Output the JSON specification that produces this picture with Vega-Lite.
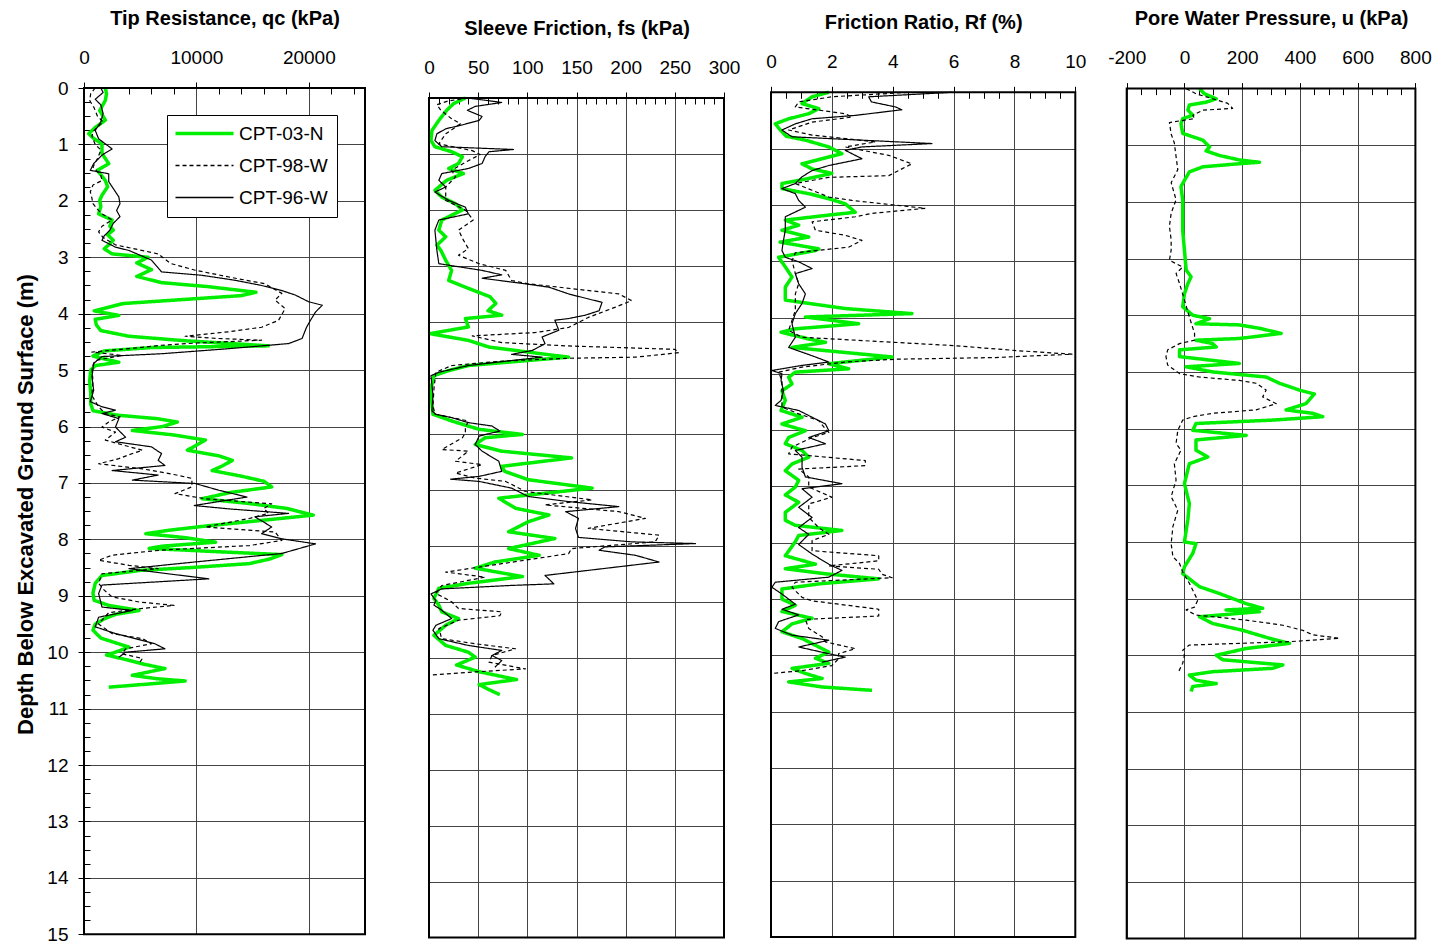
{
  "$schema": "https://vega.github.io/schema/vega-lite/v6.json",
  "background": "white",
  "padding": {"left": 14, "top": 8, "right": 5, "bottom": 5},
  "config": {
    "font": "Liberation Sans",
    "view": {"stroke": null},
    "axis": {"labelFont": "Liberation Sans", "titleFont": "Liberation Sans", "labelColor": "black", "titleColor": "black", "tickColor": "black", "tickWidth": 1, "gridColor": "#444444", "gridWidth": 1, "gridOpacity": 1, "domain": false, "labelFlush": false, "labelOverlap": false, "labelBound": false, "labelFontSize": 19}
  },
  "datasets": {
    "qc": [
      {"s":"CPT-03-N","d":0,"v":1900},{"s":"CPT-03-N","d":0.1,"v":2000},{"s":"CPT-03-N","d":0.22,"v":1900},{"s":"CPT-03-N","d":0.4,"v":1400},{"s":"CPT-03-N","d":0.57,"v":1900},{"s":"CPT-03-N","d":0.7,"v":1000},{"s":"CPT-03-N","d":0.81,"v":420},{"s":"CPT-03-N","d":0.9,"v":900},{"s":"CPT-03-N","d":0.99,"v":1600},{"s":"CPT-03-N","d":1.16,"v":1600},{"s":"CPT-03-N","d":1.34,"v":2200},{"s":"CPT-03-N","d":1.46,"v":1200},{"s":"CPT-03-N","d":1.64,"v":1900},{"s":"CPT-03-N","d":1.75,"v":2100},{"s":"CPT-03-N","d":1.9,"v":1600},{"s":"CPT-03-N","d":1.99,"v":1400},{"s":"CPT-03-N","d":2.1,"v":1500},{"s":"CPT-03-N","d":2.23,"v":1300},{"s":"CPT-03-N","d":2.34,"v":2500},{"s":"CPT-03-N","d":2.45,"v":2300},{"s":"CPT-03-N","d":2.52,"v":2600},{"s":"CPT-03-N","d":2.6,"v":2100},{"s":"CPT-03-N","d":2.7,"v":2600},{"s":"CPT-03-N","d":2.78,"v":2200},{"s":"CPT-03-N","d":2.85,"v":1800},{"s":"CPT-03-N","d":2.94,"v":2500},{"s":"CPT-03-N","d":3.0,"v":5700},{"s":"CPT-03-N","d":3.1,"v":4700},{"s":"CPT-03-N","d":3.22,"v":6000},{"s":"CPT-03-N","d":3.34,"v":4700},{"s":"CPT-03-N","d":3.45,"v":6900},{"s":"CPT-03-N","d":3.52,"v":11000},{"s":"CPT-03-N","d":3.62,"v":15300},{"s":"CPT-03-N","d":3.68,"v":14000},{"s":"CPT-03-N","d":3.76,"v":8000},{"s":"CPT-03-N","d":3.82,"v":3500},{"s":"CPT-03-N","d":3.95,"v":900},{"s":"CPT-03-N","d":4.03,"v":3100},{"s":"CPT-03-N","d":4.1,"v":1000},{"s":"CPT-03-N","d":4.2,"v":1100},{"s":"CPT-03-N","d":4.3,"v":1500},{"s":"CPT-03-N","d":4.4,"v":4000},{"s":"CPT-03-N","d":4.48,"v":9000},{"s":"CPT-03-N","d":4.54,"v":14000},{"s":"CPT-03-N","d":4.57,"v":16400},{"s":"CPT-03-N","d":4.6,"v":6000},{"s":"CPT-03-N","d":4.66,"v":1800},{"s":"CPT-03-N","d":4.75,"v":800},{"s":"CPT-03-N","d":4.82,"v":2200},{"s":"CPT-03-N","d":4.86,"v":3100},{"s":"CPT-03-N","d":4.92,"v":1000},{"s":"CPT-03-N","d":5.0,"v":600},{"s":"CPT-03-N","d":5.2,"v":500},{"s":"CPT-03-N","d":5.4,"v":600},{"s":"CPT-03-N","d":5.6,"v":600},{"s":"CPT-03-N","d":5.72,"v":800},{"s":"CPT-03-N","d":5.8,"v":3000},{"s":"CPT-03-N","d":5.86,"v":6500},{"s":"CPT-03-N","d":5.92,"v":8300},{"s":"CPT-03-N","d":6.0,"v":7000},{"s":"CPT-03-N","d":6.07,"v":4300},{"s":"CPT-03-N","d":6.15,"v":8000},{"s":"CPT-03-N","d":6.24,"v":10800},{"s":"CPT-03-N","d":6.33,"v":10000},{"s":"CPT-03-N","d":6.42,"v":9200},{"s":"CPT-03-N","d":6.52,"v":12000},{"s":"CPT-03-N","d":6.6,"v":13200},{"s":"CPT-03-N","d":6.7,"v":12300},{"s":"CPT-03-N","d":6.78,"v":11400},{"s":"CPT-03-N","d":6.88,"v":14000},{"s":"CPT-03-N","d":6.97,"v":16000},{"s":"CPT-03-N","d":7.07,"v":16700},{"s":"CPT-03-N","d":7.17,"v":13000},{"s":"CPT-03-N","d":7.28,"v":10500},{"s":"CPT-03-N","d":7.36,"v":14500},{"s":"CPT-03-N","d":7.45,"v":18000},{"s":"CPT-03-N","d":7.57,"v":20400},{"s":"CPT-03-N","d":7.66,"v":16000},{"s":"CPT-03-N","d":7.76,"v":11000},{"s":"CPT-03-N","d":7.84,"v":7500},{"s":"CPT-03-N","d":7.9,"v":5500},{"s":"CPT-03-N","d":7.97,"v":9000},{"s":"CPT-03-N","d":8.05,"v":11700},{"s":"CPT-03-N","d":8.12,"v":7000},{"s":"CPT-03-N","d":8.16,"v":5800},{"s":"CPT-03-N","d":8.22,"v":12000},{"s":"CPT-03-N","d":8.27,"v":17600},{"s":"CPT-03-N","d":8.35,"v":16500},{"s":"CPT-03-N","d":8.43,"v":14700},{"s":"CPT-03-N","d":8.5,"v":9500},{"s":"CPT-03-N","d":8.55,"v":5000},{"s":"CPT-03-N","d":8.64,"v":1600},{"s":"CPT-03-N","d":8.78,"v":1000},{"s":"CPT-03-N","d":8.95,"v":800},{"s":"CPT-03-N","d":9.08,"v":900},{"s":"CPT-03-N","d":9.17,"v":2200},{"s":"CPT-03-N","d":9.26,"v":4900},{"s":"CPT-03-N","d":9.33,"v":2800},{"s":"CPT-03-N","d":9.4,"v":1900},{"s":"CPT-03-N","d":9.5,"v":1000},{"s":"CPT-03-N","d":9.61,"v":800},{"s":"CPT-03-N","d":9.75,"v":1500},{"s":"CPT-03-N","d":9.91,"v":4000},{"s":"CPT-03-N","d":10.0,"v":2800},{"s":"CPT-03-N","d":10.05,"v":2000},{"s":"CPT-03-N","d":10.12,"v":3500},{"s":"CPT-03-N","d":10.22,"v":5500},{"s":"CPT-03-N","d":10.29,"v":7200},{"s":"CPT-03-N","d":10.36,"v":5500},{"s":"CPT-03-N","d":10.41,"v":4300},{"s":"CPT-03-N","d":10.47,"v":6500},{"s":"CPT-03-N","d":10.51,"v":9000},{"s":"CPT-03-N","d":10.56,"v":6000},{"s":"CPT-03-N","d":10.62,"v":2200},
      {"s":"CPT-98-W","d":0,"v":1000},{"s":"CPT-98-W","d":0.1,"v":600},{"s":"CPT-98-W","d":0.22,"v":500},{"s":"CPT-98-W","d":0.35,"v":900},{"s":"CPT-98-W","d":0.5,"v":1200},{"s":"CPT-98-W","d":0.6,"v":1700},{"s":"CPT-98-W","d":0.75,"v":900},{"s":"CPT-98-W","d":0.85,"v":700},{"s":"CPT-98-W","d":1.0,"v":1000},{"s":"CPT-98-W","d":1.1,"v":1500},{"s":"CPT-98-W","d":1.25,"v":1200},{"s":"CPT-98-W","d":1.4,"v":800},{"s":"CPT-98-W","d":1.55,"v":1500},{"s":"CPT-98-W","d":1.64,"v":1600},{"s":"CPT-98-W","d":1.72,"v":800},{"s":"CPT-98-W","d":1.84,"v":560},{"s":"CPT-98-W","d":1.95,"v":700},{"s":"CPT-98-W","d":2.05,"v":800},{"s":"CPT-98-W","d":2.15,"v":1200},{"s":"CPT-98-W","d":2.23,"v":1600},{"s":"CPT-98-W","d":2.34,"v":2500},{"s":"CPT-98-W","d":2.45,"v":1600},{"s":"CPT-98-W","d":2.55,"v":1300},{"s":"CPT-98-W","d":2.65,"v":1700},{"s":"CPT-98-W","d":2.78,"v":2800},{"s":"CPT-98-W","d":2.94,"v":6600},{"s":"CPT-98-W","d":3.11,"v":7700},{"s":"CPT-98-W","d":3.23,"v":9900},{"s":"CPT-98-W","d":3.35,"v":12900},{"s":"CPT-98-W","d":3.47,"v":16100},{"s":"CPT-98-W","d":3.64,"v":17600},{"s":"CPT-98-W","d":3.76,"v":17000},{"s":"CPT-98-W","d":3.91,"v":17900},{"s":"CPT-98-W","d":4.12,"v":17300},{"s":"CPT-98-W","d":4.24,"v":15800},{"s":"CPT-98-W","d":4.32,"v":12900},{"s":"CPT-98-W","d":4.4,"v":9000},{"s":"CPT-98-W","d":4.44,"v":12000},{"s":"CPT-98-W","d":4.47,"v":15800},{"s":"CPT-98-W","d":4.52,"v":10000},{"s":"CPT-98-W","d":4.56,"v":6900},{"s":"CPT-98-W","d":4.62,"v":4000},{"s":"CPT-98-W","d":4.68,"v":700},{"s":"CPT-98-W","d":4.74,"v":3400},{"s":"CPT-98-W","d":4.83,"v":1000},{"s":"CPT-98-W","d":4.95,"v":700},{"s":"CPT-98-W","d":5.2,"v":800},{"s":"CPT-98-W","d":5.45,"v":700},{"s":"CPT-98-W","d":5.65,"v":1300},{"s":"CPT-98-W","d":5.77,"v":1900},{"s":"CPT-98-W","d":5.83,"v":3200},{"s":"CPT-98-W","d":5.92,"v":2200},{"s":"CPT-98-W","d":6.01,"v":1600},{"s":"CPT-98-W","d":6.1,"v":2800},{"s":"CPT-98-W","d":6.24,"v":1900},{"s":"CPT-98-W","d":6.33,"v":3500},{"s":"CPT-98-W","d":6.42,"v":5200},{"s":"CPT-98-W","d":6.5,"v":4000},{"s":"CPT-98-W","d":6.57,"v":3100},{"s":"CPT-98-W","d":6.66,"v":1300},{"s":"CPT-98-W","d":6.75,"v":5200},{"s":"CPT-98-W","d":6.85,"v":8000},{"s":"CPT-98-W","d":6.92,"v":9600},{"s":"CPT-98-W","d":7.07,"v":9600},{"s":"CPT-98-W","d":7.19,"v":8100},{"s":"CPT-98-W","d":7.28,"v":10800},{"s":"CPT-98-W","d":7.37,"v":16700},{"s":"CPT-98-W","d":7.45,"v":16000},{"s":"CPT-98-W","d":7.54,"v":16400},{"s":"CPT-98-W","d":7.63,"v":14700},{"s":"CPT-98-W","d":7.78,"v":10800},{"s":"CPT-98-W","d":7.87,"v":17000},{"s":"CPT-98-W","d":8.02,"v":17600},{"s":"CPT-98-W","d":8.11,"v":14700},{"s":"CPT-98-W","d":8.19,"v":6900},{"s":"CPT-98-W","d":8.28,"v":2500},{"s":"CPT-98-W","d":8.37,"v":1300},{"s":"CPT-98-W","d":8.46,"v":4000},{"s":"CPT-98-W","d":8.52,"v":6600},{"s":"CPT-98-W","d":8.61,"v":1600},{"s":"CPT-98-W","d":8.78,"v":1300},{"s":"CPT-98-W","d":8.9,"v":1800},{"s":"CPT-98-W","d":9.02,"v":2500},{"s":"CPT-98-W","d":9.11,"v":4900},{"s":"CPT-98-W","d":9.17,"v":8000},{"s":"CPT-98-W","d":9.23,"v":4900},{"s":"CPT-98-W","d":9.3,"v":2200},{"s":"CPT-98-W","d":9.5,"v":1300},{"s":"CPT-98-W","d":9.67,"v":2500},{"s":"CPT-98-W","d":9.76,"v":5200},{"s":"CPT-98-W","d":9.85,"v":6000},{"s":"CPT-98-W","d":9.94,"v":3700},{"s":"CPT-98-W","d":10.03,"v":3400},{"s":"CPT-98-W","d":10.11,"v":5200},{"s":"CPT-98-W","d":10.2,"v":4900},
      {"s":"CPT-96-W","d":0,"v":1500},{"s":"CPT-96-W","d":0.08,"v":1700},{"s":"CPT-96-W","d":0.2,"v":1000},{"s":"CPT-96-W","d":0.3,"v":1500},{"s":"CPT-96-W","d":0.45,"v":1700},{"s":"CPT-96-W","d":0.6,"v":1500},{"s":"CPT-96-W","d":0.75,"v":1000},{"s":"CPT-96-W","d":0.9,"v":1300},{"s":"CPT-96-W","d":0.99,"v":1900},{"s":"CPT-96-W","d":1.08,"v":2500},{"s":"CPT-96-W","d":1.19,"v":1600},{"s":"CPT-96-W","d":1.34,"v":860},{"s":"CPT-96-W","d":1.46,"v":560},{"s":"CPT-96-W","d":1.52,"v":2200},{"s":"CPT-96-W","d":1.66,"v":2200},{"s":"CPT-96-W","d":1.84,"v":2800},{"s":"CPT-96-W","d":1.93,"v":3100},{"s":"CPT-96-W","d":2.05,"v":3200},{"s":"CPT-96-W","d":2.17,"v":2900},{"s":"CPT-96-W","d":2.28,"v":3200},{"s":"CPT-96-W","d":2.4,"v":2600},{"s":"CPT-96-W","d":2.52,"v":2300},{"s":"CPT-96-W","d":2.62,"v":1800},{"s":"CPT-96-W","d":2.7,"v":1600},{"s":"CPT-96-W","d":2.82,"v":2800},{"s":"CPT-96-W","d":2.88,"v":4000},{"s":"CPT-96-W","d":3.05,"v":6000},{"s":"CPT-96-W","d":3.26,"v":6900},{"s":"CPT-96-W","d":3.32,"v":10500},{"s":"CPT-96-W","d":3.41,"v":13500},{"s":"CPT-96-W","d":3.5,"v":15800},{"s":"CPT-96-W","d":3.59,"v":17600},{"s":"CPT-96-W","d":3.67,"v":18800},{"s":"CPT-96-W","d":3.79,"v":20000},{"s":"CPT-96-W","d":3.85,"v":21200},{"s":"CPT-96-W","d":3.97,"v":20600},{"s":"CPT-96-W","d":4.1,"v":20200},{"s":"CPT-96-W","d":4.24,"v":19800},{"s":"CPT-96-W","d":4.44,"v":19400},{"s":"CPT-96-W","d":4.53,"v":18200},{"s":"CPT-96-W","d":4.62,"v":12900},{"s":"CPT-96-W","d":4.71,"v":6900},{"s":"CPT-96-W","d":4.76,"v":1600},{"s":"CPT-96-W","d":4.88,"v":860},{"s":"CPT-96-W","d":5.12,"v":710},{"s":"CPT-96-W","d":5.36,"v":860},{"s":"CPT-96-W","d":5.56,"v":560},{"s":"CPT-96-W","d":5.65,"v":1600},{"s":"CPT-96-W","d":5.71,"v":2800},{"s":"CPT-96-W","d":5.77,"v":1600},{"s":"CPT-96-W","d":5.86,"v":3100},{"s":"CPT-96-W","d":6.01,"v":2800},{"s":"CPT-96-W","d":6.19,"v":3700},{"s":"CPT-96-W","d":6.27,"v":2800},{"s":"CPT-96-W","d":6.36,"v":6000},{"s":"CPT-96-W","d":6.48,"v":6900},{"s":"CPT-96-W","d":6.6,"v":6600},{"s":"CPT-96-W","d":6.69,"v":7200},{"s":"CPT-96-W","d":6.78,"v":2500},{"s":"CPT-96-W","d":6.86,"v":6600},{"s":"CPT-96-W","d":6.95,"v":4300},{"s":"CPT-96-W","d":7.01,"v":9900},{"s":"CPT-96-W","d":7.13,"v":12000},{"s":"CPT-96-W","d":7.25,"v":14500},{"s":"CPT-96-W","d":7.4,"v":9800},{"s":"CPT-96-W","d":7.46,"v":12900},{"s":"CPT-96-W","d":7.54,"v":18200},{"s":"CPT-96-W","d":7.6,"v":15200},{"s":"CPT-96-W","d":7.78,"v":16700},{"s":"CPT-96-W","d":7.9,"v":15800},{"s":"CPT-96-W","d":7.99,"v":17600},{"s":"CPT-96-W","d":8.08,"v":20600},{"s":"CPT-96-W","d":8.25,"v":17600},{"s":"CPT-96-W","d":8.4,"v":9900},{"s":"CPT-96-W","d":8.52,"v":4000},{"s":"CPT-96-W","d":8.58,"v":6300},{"s":"CPT-96-W","d":8.7,"v":11100},{"s":"CPT-96-W","d":8.81,"v":1600},{"s":"CPT-96-W","d":8.96,"v":1300},{"s":"CPT-96-W","d":9.2,"v":1600},{"s":"CPT-96-W","d":9.26,"v":4300},{"s":"CPT-96-W","d":9.38,"v":1300},{"s":"CPT-96-W","d":9.55,"v":1000},{"s":"CPT-96-W","d":9.67,"v":2800},{"s":"CPT-96-W","d":9.85,"v":6300},{"s":"CPT-96-W","d":9.94,"v":7200},{"s":"CPT-96-W","d":10.0,"v":3700},{"s":"CPT-96-W","d":10.09,"v":3100}
    ],
    "fs": [
      {"s":"CPT-03-N","d":0,"v":37},{"s":"CPT-03-N","d":0.1,"v":25},{"s":"CPT-03-N","d":0.22,"v":18},{"s":"CPT-03-N","d":0.4,"v":10},{"s":"CPT-03-N","d":0.58,"v":3},{"s":"CPT-03-N","d":0.76,"v":2},{"s":"CPT-03-N","d":0.87,"v":6},{"s":"CPT-03-N","d":0.96,"v":23},{"s":"CPT-03-N","d":1.05,"v":34},{"s":"CPT-03-N","d":1.17,"v":30},{"s":"CPT-03-N","d":1.26,"v":20},{"s":"CPT-03-N","d":1.35,"v":35},{"s":"CPT-03-N","d":1.47,"v":18},{"s":"CPT-03-N","d":1.65,"v":6},{"s":"CPT-03-N","d":1.77,"v":13},{"s":"CPT-03-N","d":1.89,"v":27},{"s":"CPT-03-N","d":2.0,"v":34},{"s":"CPT-03-N","d":2.18,"v":13},{"s":"CPT-03-N","d":2.36,"v":10},{"s":"CPT-03-N","d":2.48,"v":17},{"s":"CPT-03-N","d":2.63,"v":8},{"s":"CPT-03-N","d":2.72,"v":12},{"s":"CPT-03-N","d":2.9,"v":17},{"s":"CPT-03-N","d":3.08,"v":23},{"s":"CPT-03-N","d":3.26,"v":20},{"s":"CPT-03-N","d":3.38,"v":37},{"s":"CPT-03-N","d":3.55,"v":62},{"s":"CPT-03-N","d":3.67,"v":68},{"s":"CPT-03-N","d":3.8,"v":60},{"s":"CPT-03-N","d":3.88,"v":74},{"s":"CPT-03-N","d":3.94,"v":37},{"s":"CPT-03-N","d":4.09,"v":40},{"s":"CPT-03-N","d":4.21,"v":1},{"s":"CPT-03-N","d":4.33,"v":40},{"s":"CPT-03-N","d":4.45,"v":61},{"s":"CPT-03-N","d":4.56,"v":110},{"s":"CPT-03-N","d":4.63,"v":142},{"s":"CPT-03-N","d":4.69,"v":101},{"s":"CPT-03-N","d":4.78,"v":40},{"s":"CPT-03-N","d":4.87,"v":20},{"s":"CPT-03-N","d":4.96,"v":5},{"s":"CPT-03-N","d":5.2,"v":2},{"s":"CPT-03-N","d":5.45,"v":3},{"s":"CPT-03-N","d":5.65,"v":4},{"s":"CPT-03-N","d":5.77,"v":23},{"s":"CPT-03-N","d":5.92,"v":51},{"s":"CPT-03-N","d":6.01,"v":95},{"s":"CPT-03-N","d":6.07,"v":57},{"s":"CPT-03-N","d":6.19,"v":47},{"s":"CPT-03-N","d":6.31,"v":74},{"s":"CPT-03-N","d":6.43,"v":145},{"s":"CPT-03-N","d":6.58,"v":74},{"s":"CPT-03-N","d":6.67,"v":77},{"s":"CPT-03-N","d":6.82,"v":101},{"s":"CPT-03-N","d":6.97,"v":166},{"s":"CPT-03-N","d":7.15,"v":71},{"s":"CPT-03-N","d":7.33,"v":88},{"s":"CPT-03-N","d":7.45,"v":122},{"s":"CPT-03-N","d":7.57,"v":101},{"s":"CPT-03-N","d":7.75,"v":81},{"s":"CPT-03-N","d":7.87,"v":128},{"s":"CPT-03-N","d":8.05,"v":81},{"s":"CPT-03-N","d":8.17,"v":112},{"s":"CPT-03-N","d":8.29,"v":67},{"s":"CPT-03-N","d":8.4,"v":47},{"s":"CPT-03-N","d":8.55,"v":95},{"s":"CPT-03-N","d":8.67,"v":40},{"s":"CPT-03-N","d":8.76,"v":10},{"s":"CPT-03-N","d":8.94,"v":5},{"s":"CPT-03-N","d":9.06,"v":10},{"s":"CPT-03-N","d":9.18,"v":13},{"s":"CPT-03-N","d":9.3,"v":30},{"s":"CPT-03-N","d":9.42,"v":17},{"s":"CPT-03-N","d":9.6,"v":5},{"s":"CPT-03-N","d":9.78,"v":17},{"s":"CPT-03-N","d":9.9,"v":40},{"s":"CPT-03-N","d":9.99,"v":47},{"s":"CPT-03-N","d":10.13,"v":28},{"s":"CPT-03-N","d":10.25,"v":51},{"s":"CPT-03-N","d":10.39,"v":89},{"s":"CPT-03-N","d":10.48,"v":51},{"s":"CPT-03-N","d":10.57,"v":61},{"s":"CPT-03-N","d":10.66,"v":72},
      {"s":"CPT-98-W","d":0,"v":40},{"s":"CPT-98-W","d":0.05,"v":20},{"s":"CPT-98-W","d":0.12,"v":8},{"s":"CPT-98-W","d":0.22,"v":12},{"s":"CPT-98-W","d":0.37,"v":23},{"s":"CPT-98-W","d":0.46,"v":32},{"s":"CPT-98-W","d":0.64,"v":17},{"s":"CPT-98-W","d":0.82,"v":10},{"s":"CPT-98-W","d":0.94,"v":44},{"s":"CPT-98-W","d":1.01,"v":52},{"s":"CPT-98-W","d":1.12,"v":40},{"s":"CPT-98-W","d":1.29,"v":23},{"s":"CPT-98-W","d":1.41,"v":27},{"s":"CPT-98-W","d":1.59,"v":17},{"s":"CPT-98-W","d":1.83,"v":17},{"s":"CPT-98-W","d":2.0,"v":37},{"s":"CPT-98-W","d":2.18,"v":45},{"s":"CPT-98-W","d":2.36,"v":30},{"s":"CPT-98-W","d":2.54,"v":35},{"s":"CPT-98-W","d":2.69,"v":40},{"s":"CPT-98-W","d":2.81,"v":30},{"s":"CPT-98-W","d":2.96,"v":51},{"s":"CPT-98-W","d":3.08,"v":78},{"s":"CPT-98-W","d":3.26,"v":84},{"s":"CPT-98-W","d":3.32,"v":101},{"s":"CPT-98-W","d":3.38,"v":132},{"s":"CPT-98-W","d":3.5,"v":193},{"s":"CPT-98-W","d":3.62,"v":206},{"s":"CPT-98-W","d":3.74,"v":189},{"s":"CPT-98-W","d":3.92,"v":162},{"s":"CPT-98-W","d":4.1,"v":142},{"s":"CPT-98-W","d":4.19,"v":108},{"s":"CPT-98-W","d":4.25,"v":44},{"s":"CPT-98-W","d":4.37,"v":74},{"s":"CPT-98-W","d":4.43,"v":142},{"s":"CPT-98-W","d":4.49,"v":250},{"s":"CPT-98-W","d":4.55,"v":254},{"s":"CPT-98-W","d":4.63,"v":210},{"s":"CPT-98-W","d":4.65,"v":142},{"s":"CPT-98-W","d":4.7,"v":74},{"s":"CPT-98-W","d":4.78,"v":23},{"s":"CPT-98-W","d":4.9,"v":7},{"s":"CPT-98-W","d":5.2,"v":5},{"s":"CPT-98-W","d":5.5,"v":4},{"s":"CPT-98-W","d":5.65,"v":6},{"s":"CPT-98-W","d":5.77,"v":40},{"s":"CPT-98-W","d":5.89,"v":37},{"s":"CPT-98-W","d":5.98,"v":37},{"s":"CPT-98-W","d":6.07,"v":34},{"s":"CPT-98-W","d":6.28,"v":13},{"s":"CPT-98-W","d":6.31,"v":40},{"s":"CPT-98-W","d":6.49,"v":27},{"s":"CPT-98-W","d":6.55,"v":54},{"s":"CPT-98-W","d":6.7,"v":27},{"s":"CPT-98-W","d":6.79,"v":47},{"s":"CPT-98-W","d":6.85,"v":78},{"s":"CPT-98-W","d":7.03,"v":98},{"s":"CPT-98-W","d":7.18,"v":166},{"s":"CPT-98-W","d":7.27,"v":118},{"s":"CPT-98-W","d":7.39,"v":193},{"s":"CPT-98-W","d":7.51,"v":220},{"s":"CPT-98-W","d":7.69,"v":162},{"s":"CPT-98-W","d":7.81,"v":234},{"s":"CPT-98-W","d":7.93,"v":230},{"s":"CPT-98-W","d":8.05,"v":145},{"s":"CPT-98-W","d":8.14,"v":142},{"s":"CPT-98-W","d":8.32,"v":74},{"s":"CPT-98-W","d":8.47,"v":17},{"s":"CPT-98-W","d":8.56,"v":57},{"s":"CPT-98-W","d":8.71,"v":13},{"s":"CPT-98-W","d":8.85,"v":7},{"s":"CPT-98-W","d":9.0,"v":23},{"s":"CPT-98-W","d":9.12,"v":30},{"s":"CPT-98-W","d":9.18,"v":74},{"s":"CPT-98-W","d":9.25,"v":72},{"s":"CPT-98-W","d":9.33,"v":30},{"s":"CPT-98-W","d":9.48,"v":10},{"s":"CPT-98-W","d":9.66,"v":13},{"s":"CPT-98-W","d":9.75,"v":47},{"s":"CPT-98-W","d":9.84,"v":88},{"s":"CPT-98-W","d":9.96,"v":64},{"s":"CPT-98-W","d":10.08,"v":61},{"s":"CPT-98-W","d":10.2,"v":98},{"s":"CPT-98-W","d":10.26,"v":40},{"s":"CPT-98-W","d":10.31,"v":1},
      {"s":"CPT-96-W","d":0,"v":40},{"s":"CPT-96-W","d":0.08,"v":74},{"s":"CPT-96-W","d":0.15,"v":47},{"s":"CPT-96-W","d":0.22,"v":39},{"s":"CPT-96-W","d":0.33,"v":54},{"s":"CPT-96-W","d":0.4,"v":51},{"s":"CPT-96-W","d":0.48,"v":34},{"s":"CPT-96-W","d":0.55,"v":17},{"s":"CPT-96-W","d":0.64,"v":8},{"s":"CPT-96-W","d":0.76,"v":6},{"s":"CPT-96-W","d":0.87,"v":13},{"s":"CPT-96-W","d":0.92,"v":86},{"s":"CPT-96-W","d":0.96,"v":61},{"s":"CPT-96-W","d":1.05,"v":57},{"s":"CPT-96-W","d":1.17,"v":54},{"s":"CPT-96-W","d":1.26,"v":40},{"s":"CPT-96-W","d":1.35,"v":13},{"s":"CPT-96-W","d":1.47,"v":10},{"s":"CPT-96-W","d":1.59,"v":17},{"s":"CPT-96-W","d":1.68,"v":6},{"s":"CPT-96-W","d":1.83,"v":20},{"s":"CPT-96-W","d":1.95,"v":37},{"s":"CPT-96-W","d":2.07,"v":40},{"s":"CPT-96-W","d":2.18,"v":10},{"s":"CPT-96-W","d":2.36,"v":6},{"s":"CPT-96-W","d":2.54,"v":7},{"s":"CPT-96-W","d":2.72,"v":8},{"s":"CPT-96-W","d":2.96,"v":10},{"s":"CPT-96-W","d":3.08,"v":54},{"s":"CPT-96-W","d":3.16,"v":74},{"s":"CPT-96-W","d":3.22,"v":54},{"s":"CPT-96-W","d":3.32,"v":98},{"s":"CPT-96-W","d":3.38,"v":122},{"s":"CPT-96-W","d":3.5,"v":142},{"s":"CPT-96-W","d":3.59,"v":162},{"s":"CPT-96-W","d":3.65,"v":176},{"s":"CPT-96-W","d":3.8,"v":173},{"s":"CPT-96-W","d":3.88,"v":159},{"s":"CPT-96-W","d":3.94,"v":142},{"s":"CPT-96-W","d":3.97,"v":128},{"s":"CPT-96-W","d":4.15,"v":132},{"s":"CPT-96-W","d":4.27,"v":115},{"s":"CPT-96-W","d":4.39,"v":118},{"s":"CPT-96-W","d":4.51,"v":105},{"s":"CPT-96-W","d":4.58,"v":84},{"s":"CPT-96-W","d":4.63,"v":115},{"s":"CPT-96-W","d":4.69,"v":84},{"s":"CPT-96-W","d":4.78,"v":40},{"s":"CPT-96-W","d":4.9,"v":10},{"s":"CPT-96-W","d":4.96,"v":2},{"s":"CPT-96-W","d":5.3,"v":4},{"s":"CPT-96-W","d":5.59,"v":3},{"s":"CPT-96-W","d":5.65,"v":7},{"s":"CPT-96-W","d":5.71,"v":23},{"s":"CPT-96-W","d":5.8,"v":40},{"s":"CPT-96-W","d":5.86,"v":64},{"s":"CPT-96-W","d":5.95,"v":72},{"s":"CPT-96-W","d":6.04,"v":51},{"s":"CPT-96-W","d":6.19,"v":47},{"s":"CPT-96-W","d":6.31,"v":54},{"s":"CPT-96-W","d":6.49,"v":71},{"s":"CPT-96-W","d":6.67,"v":74},{"s":"CPT-96-W","d":6.76,"v":51},{"s":"CPT-96-W","d":6.81,"v":22},{"s":"CPT-96-W","d":6.85,"v":51},{"s":"CPT-96-W","d":6.97,"v":84},{"s":"CPT-96-W","d":7.12,"v":101},{"s":"CPT-96-W","d":7.21,"v":142},{"s":"CPT-96-W","d":7.3,"v":193},{"s":"CPT-96-W","d":7.39,"v":139},{"s":"CPT-96-W","d":7.51,"v":152},{"s":"CPT-96-W","d":7.69,"v":149},{"s":"CPT-96-W","d":7.85,"v":152},{"s":"CPT-96-W","d":7.93,"v":206},{"s":"CPT-96-W","d":7.96,"v":271},{"s":"CPT-96-W","d":8.02,"v":179},{"s":"CPT-96-W","d":8.08,"v":173},{"s":"CPT-96-W","d":8.17,"v":210},{"s":"CPT-96-W","d":8.29,"v":234},{"s":"CPT-96-W","d":8.41,"v":176},{"s":"CPT-96-W","d":8.53,"v":118},{"s":"CPT-96-W","d":8.68,"v":127},{"s":"CPT-96-W","d":8.71,"v":81},{"s":"CPT-96-W","d":8.77,"v":13},{"s":"CPT-96-W","d":8.86,"v":2},{"s":"CPT-96-W","d":8.98,"v":7},{"s":"CPT-96-W","d":9.06,"v":5},{"s":"CPT-96-W","d":9.15,"v":13},{"s":"CPT-96-W","d":9.3,"v":23},{"s":"CPT-96-W","d":9.42,"v":7},{"s":"CPT-96-W","d":9.51,"v":4},{"s":"CPT-96-W","d":9.66,"v":10},{"s":"CPT-96-W","d":9.78,"v":40},{"s":"CPT-96-W","d":9.87,"v":74},{"s":"CPT-96-W","d":9.96,"v":64},{"s":"CPT-96-W","d":10.05,"v":74},{"s":"CPT-96-W","d":10.17,"v":67}
    ],
    "rf": [
      {"s":"CPT-03-N","d":0,"v":1.9},{"s":"CPT-03-N","d":0.08,"v":1.35},{"s":"CPT-03-N","d":0.2,"v":1.02},{"s":"CPT-03-N","d":0.29,"v":1.57},{"s":"CPT-03-N","d":0.38,"v":1.24},{"s":"CPT-03-N","d":0.47,"v":0.58},{"s":"CPT-03-N","d":0.56,"v":0.14},{"s":"CPT-03-N","d":0.67,"v":0.31},{"s":"CPT-03-N","d":0.78,"v":0.5},{"s":"CPT-03-N","d":0.85,"v":1.13},{"s":"CPT-03-N","d":0.97,"v":1.9},{"s":"CPT-03-N","d":1.09,"v":2.33},{"s":"CPT-03-N","d":1.21,"v":1.46},{"s":"CPT-03-N","d":1.27,"v":1.02},{"s":"CPT-03-N","d":1.36,"v":1.35},{"s":"CPT-03-N","d":1.44,"v":2.0},{"s":"CPT-03-N","d":1.53,"v":1.24},{"s":"CPT-03-N","d":1.62,"v":0.36},{"s":"CPT-03-N","d":1.71,"v":0.36},{"s":"CPT-03-N","d":1.8,"v":1.24},{"s":"CPT-03-N","d":1.89,"v":1.9},{"s":"CPT-03-N","d":1.98,"v":2.44},{"s":"CPT-03-N","d":2.13,"v":2.77},{"s":"CPT-03-N","d":2.18,"v":1.9},{"s":"CPT-03-N","d":2.27,"v":0.47},{"s":"CPT-03-N","d":2.36,"v":0.91},{"s":"CPT-03-N","d":2.45,"v":0.36},{"s":"CPT-03-N","d":2.57,"v":1.24},{"s":"CPT-03-N","d":2.66,"v":0.3},{"s":"CPT-03-N","d":2.78,"v":1.57},{"s":"CPT-03-N","d":2.81,"v":1.46},{"s":"CPT-03-N","d":2.93,"v":0.25},{"s":"CPT-03-N","d":3.1,"v":0.47},{"s":"CPT-03-N","d":3.28,"v":0.69},{"s":"CPT-03-N","d":3.46,"v":0.47},{"s":"CPT-03-N","d":3.69,"v":0.47},{"s":"CPT-03-N","d":3.84,"v":2.44},{"s":"CPT-03-N","d":3.93,"v":4.63},{"s":"CPT-03-N","d":3.99,"v":1.13},{"s":"CPT-03-N","d":4.11,"v":2.88},{"s":"CPT-03-N","d":4.2,"v":0.8},{"s":"CPT-03-N","d":4.26,"v":0.33},{"s":"CPT-03-N","d":4.38,"v":1.24},{"s":"CPT-03-N","d":4.44,"v":1.79},{"s":"CPT-03-N","d":4.53,"v":0.69},{"s":"CPT-03-N","d":4.7,"v":3.98},{"s":"CPT-03-N","d":4.82,"v":1.9},{"s":"CPT-03-N","d":4.91,"v":2.55},{"s":"CPT-03-N","d":4.97,"v":0.8},{"s":"CPT-03-N","d":5.06,"v":0.58},{"s":"CPT-03-N","d":5.18,"v":0.69},{"s":"CPT-03-N","d":5.3,"v":0.36},{"s":"CPT-03-N","d":5.47,"v":0.47},{"s":"CPT-03-N","d":5.65,"v":0.33},{"s":"CPT-03-N","d":5.77,"v":1.02},{"s":"CPT-03-N","d":5.89,"v":0.36},{"s":"CPT-03-N","d":6.01,"v":1.13},{"s":"CPT-03-N","d":6.13,"v":0.58},{"s":"CPT-03-N","d":6.24,"v":0.47},{"s":"CPT-03-N","d":6.36,"v":1.02},{"s":"CPT-03-N","d":6.48,"v":1.24},{"s":"CPT-03-N","d":6.6,"v":0.69},{"s":"CPT-03-N","d":6.72,"v":0.47},{"s":"CPT-03-N","d":6.89,"v":0.91},{"s":"CPT-03-N","d":7.01,"v":0.8},{"s":"CPT-03-N","d":7.15,"v":0.47},{"s":"CPT-03-N","d":7.28,"v":0.91},{"s":"CPT-03-N","d":7.46,"v":0.47},{"s":"CPT-03-N","d":7.6,"v":0.47},{"s":"CPT-03-N","d":7.69,"v":0.8},{"s":"CPT-03-N","d":7.78,"v":2.33},{"s":"CPT-03-N","d":7.87,"v":0.91},{"s":"CPT-03-N","d":7.98,"v":0.8},{"s":"CPT-03-N","d":8.23,"v":0.47},{"s":"CPT-03-N","d":8.38,"v":1.46},{"s":"CPT-03-N","d":8.46,"v":0.47},{"s":"CPT-03-N","d":8.55,"v":1.79},{"s":"CPT-03-N","d":8.64,"v":3.54},{"s":"CPT-03-N","d":8.73,"v":1.57},{"s":"CPT-03-N","d":8.82,"v":0.36},{"s":"CPT-03-N","d":9.0,"v":0.36},{"s":"CPT-03-N","d":9.11,"v":0.8},{"s":"CPT-03-N","d":9.22,"v":0.36},{"s":"CPT-03-N","d":9.34,"v":1.35},{"s":"CPT-03-N","d":9.44,"v":0.69},{"s":"CPT-03-N","d":9.58,"v":0.36},{"s":"CPT-03-N","d":9.7,"v":1.02},{"s":"CPT-03-N","d":9.82,"v":1.46},{"s":"CPT-03-N","d":9.94,"v":1.9},{"s":"CPT-03-N","d":10.05,"v":1.46},{"s":"CPT-03-N","d":10.14,"v":1.9},{"s":"CPT-03-N","d":10.23,"v":0.69},{"s":"CPT-03-N","d":10.32,"v":1.13},{"s":"CPT-03-N","d":10.41,"v":1.68},{"s":"CPT-03-N","d":10.47,"v":0.58},{"s":"CPT-03-N","d":10.56,"v":1.68},{"s":"CPT-03-N","d":10.62,"v":3.32},
      {"s":"CPT-98-W","d":0,"v":4.5},{"s":"CPT-98-W","d":0.08,"v":2.0},{"s":"CPT-98-W","d":0.17,"v":0.91},{"s":"CPT-98-W","d":0.26,"v":0.8},{"s":"CPT-98-W","d":0.38,"v":2.44},{"s":"CPT-98-W","d":0.44,"v":2.66},{"s":"CPT-98-W","d":0.53,"v":1.35},{"s":"CPT-98-W","d":0.67,"v":0.58},{"s":"CPT-98-W","d":0.76,"v":1.35},{"s":"CPT-98-W","d":0.88,"v":3.43},{"s":"CPT-98-W","d":0.97,"v":2.44},{"s":"CPT-98-W","d":1.12,"v":3.87},{"s":"CPT-98-W","d":1.27,"v":4.63},{"s":"CPT-98-W","d":1.36,"v":4.3},{"s":"CPT-98-W","d":1.48,"v":3.87},{"s":"CPT-98-W","d":1.51,"v":1.9},{"s":"CPT-98-W","d":1.62,"v":0.8},{"s":"CPT-98-W","d":1.74,"v":1.35},{"s":"CPT-98-W","d":1.86,"v":1.9},{"s":"CPT-98-W","d":1.92,"v":2.66},{"s":"CPT-98-W","d":2.06,"v":5.07},{"s":"CPT-98-W","d":2.15,"v":3.32},{"s":"CPT-98-W","d":2.21,"v":2.77},{"s":"CPT-98-W","d":2.3,"v":1.35},{"s":"CPT-98-W","d":2.45,"v":1.46},{"s":"CPT-98-W","d":2.54,"v":2.44},{"s":"CPT-98-W","d":2.63,"v":2.99},{"s":"CPT-98-W","d":2.75,"v":2.55},{"s":"CPT-98-W","d":2.85,"v":0.8},{"s":"CPT-98-W","d":2.99,"v":0.69},{"s":"CPT-98-W","d":3.22,"v":0.8},{"s":"CPT-98-W","d":3.4,"v":0.91},{"s":"CPT-98-W","d":3.58,"v":0.8},{"s":"CPT-98-W","d":3.87,"v":0.8},{"s":"CPT-98-W","d":4.05,"v":0.69},{"s":"CPT-98-W","d":4.23,"v":0.58},{"s":"CPT-98-W","d":4.35,"v":1.02},{"s":"CPT-98-W","d":4.5,"v":6.06},{"s":"CPT-98-W","d":4.59,"v":8.14},{"s":"CPT-98-W","d":4.65,"v":9.89},{"s":"CPT-98-W","d":4.71,"v":7.38},{"s":"CPT-98-W","d":4.74,"v":4.09},{"s":"CPT-98-W","d":4.79,"v":2.44},{"s":"CPT-98-W","d":4.88,"v":1.02},{"s":"CPT-98-W","d":4.97,"v":0.25},{"s":"CPT-98-W","d":5.12,"v":0.36},{"s":"CPT-98-W","d":5.35,"v":0.36},{"s":"CPT-98-W","d":5.59,"v":0.36},{"s":"CPT-98-W","d":5.71,"v":0.91},{"s":"CPT-98-W","d":5.83,"v":1.57},{"s":"CPT-98-W","d":5.98,"v":1.79},{"s":"CPT-98-W","d":6.04,"v":1.9},{"s":"CPT-98-W","d":6.13,"v":1.35},{"s":"CPT-98-W","d":6.3,"v":0.69},{"s":"CPT-98-W","d":6.42,"v":0.58},{"s":"CPT-98-W","d":6.54,"v":3.1},{"s":"CPT-98-W","d":6.63,"v":3.1},{"s":"CPT-98-W","d":6.69,"v":0.91},{"s":"CPT-98-W","d":6.83,"v":1.24},{"s":"CPT-98-W","d":7.01,"v":1.24},{"s":"CPT-98-W","d":7.19,"v":2.0},{"s":"CPT-98-W","d":7.31,"v":1.24},{"s":"CPT-98-W","d":7.55,"v":1.24},{"s":"CPT-98-W","d":7.73,"v":1.57},{"s":"CPT-98-W","d":7.85,"v":1.9},{"s":"CPT-98-W","d":7.96,"v":1.35},{"s":"CPT-98-W","d":8.14,"v":1.35},{"s":"CPT-98-W","d":8.23,"v":3.54},{"s":"CPT-98-W","d":8.32,"v":3.54},{"s":"CPT-98-W","d":8.41,"v":1.9},{"s":"CPT-98-W","d":8.47,"v":3.54},{"s":"CPT-98-W","d":8.56,"v":3.65},{"s":"CPT-98-W","d":8.62,"v":3.98},{"s":"CPT-98-W","d":8.7,"v":0.8},{"s":"CPT-98-W","d":8.79,"v":0.69},{"s":"CPT-98-W","d":8.97,"v":1.02},{"s":"CPT-98-W","d":9.03,"v":1.35},{"s":"CPT-98-W","d":9.18,"v":3.54},{"s":"CPT-98-W","d":9.3,"v":3.54},{"s":"CPT-98-W","d":9.36,"v":1.13},{"s":"CPT-98-W","d":9.52,"v":1.24},{"s":"CPT-98-W","d":9.67,"v":1.68},{"s":"CPT-98-W","d":9.76,"v":1.79},{"s":"CPT-98-W","d":9.88,"v":2.77},{"s":"CPT-98-W","d":9.97,"v":2.22},{"s":"CPT-98-W","d":10.06,"v":2.22},{"s":"CPT-98-W","d":10.18,"v":2.0},{"s":"CPT-98-W","d":10.27,"v":1.02},{"s":"CPT-98-W","d":10.32,"v":0.03},
      {"s":"CPT-96-W","d":0,"v":5.95},{"s":"CPT-96-W","d":0.08,"v":3.21},{"s":"CPT-96-W","d":0.17,"v":3.3},{"s":"CPT-96-W","d":0.26,"v":4.09},{"s":"CPT-96-W","d":0.31,"v":4.3},{"s":"CPT-96-W","d":0.41,"v":2.77},{"s":"CPT-96-W","d":0.47,"v":1.35},{"s":"CPT-96-W","d":0.56,"v":0.8},{"s":"CPT-96-W","d":0.67,"v":0.36},{"s":"CPT-96-W","d":0.79,"v":0.69},{"s":"CPT-96-W","d":0.85,"v":2.99},{"s":"CPT-96-W","d":0.91,"v":5.29},{"s":"CPT-96-W","d":0.97,"v":2.99},{"s":"CPT-96-W","d":1.03,"v":2.44},{"s":"CPT-96-W","d":1.18,"v":2.99},{"s":"CPT-96-W","d":1.3,"v":1.9},{"s":"CPT-96-W","d":1.39,"v":1.35},{"s":"CPT-96-W","d":1.5,"v":1.02},{"s":"CPT-96-W","d":1.62,"v":0.8},{"s":"CPT-96-W","d":1.71,"v":0.36},{"s":"CPT-96-W","d":1.8,"v":0.8},{"s":"CPT-96-W","d":1.92,"v":0.91},{"s":"CPT-96-W","d":2.04,"v":1.13},{"s":"CPT-96-W","d":2.21,"v":0.47},{"s":"CPT-96-W","d":2.45,"v":0.47},{"s":"CPT-96-W","d":2.63,"v":0.41},{"s":"CPT-96-W","d":2.81,"v":0.36},{"s":"CPT-96-W","d":2.93,"v":0.47},{"s":"CPT-96-W","d":3.01,"v":0.91},{"s":"CPT-96-W","d":3.13,"v":1.35},{"s":"CPT-96-W","d":3.22,"v":0.8},{"s":"CPT-96-W","d":3.4,"v":0.91},{"s":"CPT-96-W","d":3.58,"v":1.13},{"s":"CPT-96-W","d":3.75,"v":1.02},{"s":"CPT-96-W","d":3.93,"v":0.8},{"s":"CPT-96-W","d":4.11,"v":0.69},{"s":"CPT-96-W","d":4.35,"v":0.8},{"s":"CPT-96-W","d":4.53,"v":0.58},{"s":"CPT-96-W","d":4.7,"v":1.46},{"s":"CPT-96-W","d":4.79,"v":1.9},{"s":"CPT-96-W","d":4.85,"v":1.02},{"s":"CPT-96-W","d":4.94,"v":0.03},{"s":"CPT-96-W","d":5.0,"v":0.36},{"s":"CPT-96-W","d":5.12,"v":0.33},{"s":"CPT-96-W","d":5.3,"v":0.41},{"s":"CPT-96-W","d":5.47,"v":0.33},{"s":"CPT-96-W","d":5.56,"v":0.14},{"s":"CPT-96-W","d":5.65,"v":0.91},{"s":"CPT-96-W","d":5.77,"v":1.35},{"s":"CPT-96-W","d":5.89,"v":1.79},{"s":"CPT-96-W","d":6.01,"v":1.9},{"s":"CPT-96-W","d":6.13,"v":1.24},{"s":"CPT-96-W","d":6.24,"v":1.79},{"s":"CPT-96-W","d":6.36,"v":0.8},{"s":"CPT-96-W","d":6.48,"v":1.02},{"s":"CPT-96-W","d":6.66,"v":1.02},{"s":"CPT-96-W","d":6.83,"v":1.13},{"s":"CPT-96-W","d":6.95,"v":2.33},{"s":"CPT-96-W","d":7.04,"v":1.02},{"s":"CPT-96-W","d":7.19,"v":1.35},{"s":"CPT-96-W","d":7.37,"v":0.91},{"s":"CPT-96-W","d":7.55,"v":1.35},{"s":"CPT-96-W","d":7.73,"v":0.91},{"s":"CPT-96-W","d":7.85,"v":1.24},{"s":"CPT-96-W","d":8.03,"v":0.91},{"s":"CPT-96-W","d":8.2,"v":1.35},{"s":"CPT-96-W","d":8.38,"v":1.9},{"s":"CPT-96-W","d":8.49,"v":2.33},{"s":"CPT-96-W","d":8.61,"v":1.9},{"s":"CPT-96-W","d":8.7,"v":0.14},{"s":"CPT-96-W","d":8.79,"v":0.03},{"s":"CPT-96-W","d":8.91,"v":0.36},{"s":"CPT-96-W","d":9.09,"v":0.8},{"s":"CPT-96-W","d":9.18,"v":0.36},{"s":"CPT-96-W","d":9.28,"v":0.91},{"s":"CPT-96-W","d":9.4,"v":0.25},{"s":"CPT-96-W","d":9.52,"v":0.14},{"s":"CPT-96-W","d":9.64,"v":0.69},{"s":"CPT-96-W","d":9.73,"v":1.9},{"s":"CPT-96-W","d":9.85,"v":0.91},{"s":"CPT-96-W","d":9.97,"v":1.9},{"s":"CPT-96-W","d":10.03,"v":2.44},{"s":"CPT-96-W","d":10.12,"v":1.68}
    ],
    "u": [
      {"s":"CPT-03-N","d":0,"v":52},{"s":"CPT-03-N","d":0.09,"v":69},{"s":"CPT-03-N","d":0.18,"v":110},{"s":"CPT-03-N","d":0.24,"v":75},{"s":"CPT-03-N","d":0.29,"v":17},{"s":"CPT-03-N","d":0.38,"v":12},{"s":"CPT-03-N","d":0.47,"v":29},{"s":"CPT-03-N","d":0.53,"v":-6},{"s":"CPT-03-N","d":0.62,"v":-12},{"s":"CPT-03-N","d":0.79,"v":-6},{"s":"CPT-03-N","d":0.91,"v":64},{"s":"CPT-03-N","d":1.03,"v":87},{"s":"CPT-03-N","d":1.1,"v":75},{"s":"CPT-03-N","d":1.18,"v":121},{"s":"CPT-03-N","d":1.26,"v":191},{"s":"CPT-03-N","d":1.3,"v":260},{"s":"CPT-03-N","d":1.33,"v":179},{"s":"CPT-03-N","d":1.38,"v":64},{"s":"CPT-03-N","d":1.47,"v":17},{"s":"CPT-03-N","d":1.62,"v":0},{"s":"CPT-03-N","d":1.73,"v":-12},{"s":"CPT-03-N","d":1.97,"v":-6},{"s":"CPT-03-N","d":2.2,"v":-6},{"s":"CPT-03-N","d":2.5,"v":-6},{"s":"CPT-03-N","d":2.85,"v":0},{"s":"CPT-03-N","d":3.2,"v":6},{"s":"CPT-03-N","d":3.32,"v":23},{"s":"CPT-03-N","d":3.44,"v":12},{"s":"CPT-03-N","d":3.62,"v":0},{"s":"CPT-03-N","d":3.85,"v":-6},{"s":"CPT-03-N","d":4.0,"v":29},{"s":"CPT-03-N","d":4.06,"v":87},{"s":"CPT-03-N","d":4.15,"v":40},{"s":"CPT-03-N","d":4.17,"v":190},{"s":"CPT-03-N","d":4.23,"v":260},{"s":"CPT-03-N","d":4.32,"v":335},{"s":"CPT-03-N","d":4.41,"v":190},{"s":"CPT-03-N","d":4.44,"v":40},{"s":"CPT-03-N","d":4.5,"v":98},{"s":"CPT-03-N","d":4.56,"v":110},{"s":"CPT-03-N","d":4.61,"v":-17},{"s":"CPT-03-N","d":4.73,"v":-17},{"s":"CPT-03-N","d":4.85,"v":190},{"s":"CPT-03-N","d":4.91,"v":6},{"s":"CPT-03-N","d":5.0,"v":98},{"s":"CPT-03-N","d":5.09,"v":283},{"s":"CPT-03-N","d":5.2,"v":329},{"s":"CPT-03-N","d":5.32,"v":398},{"s":"CPT-03-N","d":5.39,"v":450},{"s":"CPT-03-N","d":5.56,"v":421},{"s":"CPT-03-N","d":5.67,"v":352},{"s":"CPT-03-N","d":5.73,"v":445},{"s":"CPT-03-N","d":5.79,"v":479},{"s":"CPT-03-N","d":5.85,"v":306},{"s":"CPT-03-N","d":5.91,"v":40},{"s":"CPT-03-N","d":6.03,"v":29},{"s":"CPT-03-N","d":6.12,"v":214},{"s":"CPT-03-N","d":6.2,"v":40},{"s":"CPT-03-N","d":6.38,"v":40},{"s":"CPT-03-N","d":6.5,"v":81},{"s":"CPT-03-N","d":6.62,"v":17},{"s":"CPT-03-N","d":6.97,"v":0},{"s":"CPT-03-N","d":7.32,"v":17},{"s":"CPT-03-N","d":7.6,"v":12},{"s":"CPT-03-N","d":8.0,"v":0},{"s":"CPT-03-N","d":8.03,"v":40},{"s":"CPT-03-N","d":8.2,"v":29},{"s":"CPT-03-N","d":8.44,"v":0},{"s":"CPT-03-N","d":8.56,"v":-6},{"s":"CPT-03-N","d":8.79,"v":52},{"s":"CPT-03-N","d":8.91,"v":121},{"s":"CPT-03-N","d":9.09,"v":214},{"s":"CPT-03-N","d":9.17,"v":271},{"s":"CPT-03-N","d":9.2,"v":144},{"s":"CPT-03-N","d":9.23,"v":260},{"s":"CPT-03-N","d":9.32,"v":52},{"s":"CPT-03-N","d":9.44,"v":98},{"s":"CPT-03-N","d":9.56,"v":202},{"s":"CPT-03-N","d":9.7,"v":294},{"s":"CPT-03-N","d":9.79,"v":364},{"s":"CPT-03-N","d":9.88,"v":214},{"s":"CPT-03-N","d":10.0,"v":110},{"s":"CPT-03-N","d":10.08,"v":133},{"s":"CPT-03-N","d":10.17,"v":341},{"s":"CPT-03-N","d":10.23,"v":306},{"s":"CPT-03-N","d":10.29,"v":98},{"s":"CPT-03-N","d":10.35,"v":17},{"s":"CPT-03-N","d":10.44,"v":40},{"s":"CPT-03-N","d":10.5,"v":110},{"s":"CPT-03-N","d":10.55,"v":29},{"s":"CPT-03-N","d":10.64,"v":23},
      {"s":"CPT-98-W","d":0,"v":6},{"s":"CPT-98-W","d":0.09,"v":40},{"s":"CPT-98-W","d":0.18,"v":98},{"s":"CPT-98-W","d":0.26,"v":150},{"s":"CPT-98-W","d":0.35,"v":167},{"s":"CPT-98-W","d":0.38,"v":64},{"s":"CPT-98-W","d":0.47,"v":29},{"s":"CPT-98-W","d":0.53,"v":35},{"s":"CPT-98-W","d":0.57,"v":-17},{"s":"CPT-98-W","d":0.6,"v":-52},{"s":"CPT-98-W","d":0.8,"v":-46},{"s":"CPT-98-W","d":0.96,"v":-35},{"s":"CPT-98-W","d":1.2,"v":-29},{"s":"CPT-98-W","d":1.43,"v":-23},{"s":"CPT-98-W","d":1.66,"v":-46},{"s":"CPT-98-W","d":1.96,"v":-29},{"s":"CPT-98-W","d":2.2,"v":-46},{"s":"CPT-98-W","d":2.43,"v":-52},{"s":"CPT-98-W","d":2.67,"v":-46},{"s":"CPT-98-W","d":2.85,"v":-46},{"s":"CPT-98-W","d":3.03,"v":-52},{"s":"CPT-98-W","d":3.15,"v":-6},{"s":"CPT-98-W","d":3.26,"v":-29},{"s":"CPT-98-W","d":3.44,"v":-17},{"s":"CPT-98-W","d":3.73,"v":0},{"s":"CPT-98-W","d":4.03,"v":17},{"s":"CPT-98-W","d":4.32,"v":35},{"s":"CPT-98-W","d":4.44,"v":35},{"s":"CPT-98-W","d":4.5,"v":-17},{"s":"CPT-98-W","d":4.61,"v":-58},{"s":"CPT-98-W","d":4.73,"v":-64},{"s":"CPT-98-W","d":4.88,"v":-58},{"s":"CPT-98-W","d":5.03,"v":-17},{"s":"CPT-98-W","d":5.09,"v":52},{"s":"CPT-98-W","d":5.15,"v":190},{"s":"CPT-98-W","d":5.2,"v":248},{"s":"CPT-98-W","d":5.32,"v":283},{"s":"CPT-98-W","d":5.44,"v":271},{"s":"CPT-98-W","d":5.56,"v":318},{"s":"CPT-98-W","d":5.67,"v":248},{"s":"CPT-98-W","d":5.73,"v":98},{"s":"CPT-98-W","d":5.79,"v":29},{"s":"CPT-98-W","d":5.85,"v":-6},{"s":"CPT-98-W","d":6.03,"v":-23},{"s":"CPT-98-W","d":6.26,"v":-29},{"s":"CPT-98-W","d":6.38,"v":-12},{"s":"CPT-98-W","d":6.62,"v":-35},{"s":"CPT-98-W","d":6.91,"v":-29},{"s":"CPT-98-W","d":7.2,"v":-46},{"s":"CPT-98-W","d":7.44,"v":-23},{"s":"CPT-98-W","d":7.73,"v":-40},{"s":"CPT-98-W","d":8.03,"v":-46},{"s":"CPT-98-W","d":8.26,"v":-40},{"s":"CPT-98-W","d":8.38,"v":-17},{"s":"CPT-98-W","d":8.53,"v":-6},{"s":"CPT-98-W","d":8.73,"v":17},{"s":"CPT-98-W","d":9.03,"v":46},{"s":"CPT-98-W","d":9.15,"v":35},{"s":"CPT-98-W","d":9.2,"v":6},{"s":"CPT-98-W","d":9.29,"v":40},{"s":"CPT-98-W","d":9.38,"v":214},{"s":"CPT-98-W","d":9.47,"v":341},{"s":"CPT-98-W","d":9.56,"v":410},{"s":"CPT-98-W","d":9.64,"v":445},{"s":"CPT-98-W","d":9.7,"v":537},{"s":"CPT-98-W","d":9.76,"v":364},{"s":"CPT-98-W","d":9.82,"v":17},{"s":"CPT-98-W","d":9.91,"v":-6},{"s":"CPT-98-W","d":10.0,"v":0},{"s":"CPT-98-W","d":10.14,"v":-6},{"s":"CPT-98-W","d":10.32,"v":-23}
    ]
  },
  "bounds": "flush",
  "spacing": 0,
  "resolve": {"scale": {"color": "independent", "strokeDash": "independent"}},
  "hconcat": [
    {
      "width": 281, "height": 851,
      "resolve": {"axis": {"x": "independent", "y": "independent"}},
      "layer": [
        {
          "data": {"name": "qc"},
          "mark": {"type": "line", "strokeJoin": "round"},
          "encoding": {
            "x": {"field": "v", "type": "quantitative", "scale": {"domain": [0, 25000], "range": [0, 281], "nice": false, "zero": false},
              "axis": {"orient": "top", "values": [0, 10000, 20000], "labelExpr": "'' + datum.value", "labelPadding": 15, "tickSize": 6, "grid": true, "title": "Tip Resistance, qc (kPa)", "titleFontSize": 20, "titleFontWeight": "bold", "titlePadding": 20}},
            "y": {"field": "d", "type": "quantitative", "scale": {"domain": [0, 15], "range": [0, 846.3], "nice": false, "zero": false},
              "axis": {"orient": "left", "values": [0,1,2,3,4,5,6,7,8,9,10,11,12,13,14,15], "labelPadding": 10, "tickSize": 6, "grid": true, "title": "Depth Below Excavated Ground Surface (m)", "titleFontSize": 22, "titleFontWeight": "bold", "titlePadding": 9, "titleY": 416}},
            "order": {"field": "d", "type": "quantitative"},
            "color": {"field": "s", "type": "nominal", "scale": {"domain": ["CPT-03-N", "CPT-98-W", "CPT-96-W"], "range": ["#00ee00", "black", "black"]},
              "legend": {"orient": "none", "legendX": 83, "legendY": 27, "title": null, "fillColor": "white", "strokeColor": "black", "padding": 9, "labelFontSize": 19, "labelFont": "Liberation Sans", "labelColor": "black", "symbolType": "M-2.9,0H2.9", "symbolSize": 400, "symbolOffset": 19, "rowPadding": 12, "labelOffset": 25, "symbolStrokeWidth": 1.5,
                "encode": {"symbols": {"update": {"strokeWidth": {"signal": "datum.value === 'CPT-03-N' ? 3.5 : 1.3"}}}}}},
            "strokeDash": {"field": "s", "type": "nominal", "scale": {"domain": ["CPT-03-N", "CPT-98-W", "CPT-96-W"], "range": [[1, 0], [4, 3], [1, 0]]},
              "legend": {"orient": "none", "legendX": 83, "legendY": 27, "title": null, "fillColor": "white", "strokeColor": "black", "padding": 9, "labelFontSize": 19, "labelFont": "Liberation Sans", "labelColor": "black", "symbolType": "M-2.9,0H2.9", "symbolSize": 400, "symbolOffset": 19, "rowPadding": 12, "labelOffset": 25, "symbolStrokeWidth": 1.5,
                "encode": {"symbols": {"update": {"strokeWidth": {"signal": "datum.value === 'CPT-03-N' ? 3.5 : 1.3"}}}}}},
            "strokeWidth": {"condition": {"test": "datum.s === 'CPT-03-N'", "value": 3.5}, "value": 1.2}
          }
        },
        {
          "data": {"values": [{}]},
          "mark": {"type": "rect", "fill": "transparent", "stroke": "black", "strokeWidth": 2},
          "encoding": {
            "x": {"datum": 0, "type": "quantitative", "scale": {"domain": [0, 25000], "range": [0, 281], "nice": false, "zero": false},
              "axis": {"orient": "top", "values": [2000,4000,6000,8000,12000,14000,16000,18000,22000,24000], "labels": false, "tickSize": -6, "grid": false, "title": null}},
            "x2": {"datum": 25000},
            "y": {"datum": 0, "type": "quantitative", "scale": {"domain": [0, 15], "range": [0, 846.3], "nice": false, "zero": false},
              "axis": {"orient": "left", "values": [0.25,0.5,0.75,1,1.25,1.5,1.75,2,2.25,2.5,2.75,3,3.25,3.5,3.75,4,4.25,4.5,4.75,5,5.25,5.5,5.75,6,6.25,6.5,6.75,7,7.25,7.5,7.75,8,8.25,8.5,8.75,9,9.25,9.5,9.75,10,10.25,10.5,10.75,11,11.25,11.5,11.75,12,12.25,12.5,12.75,13,13.25,13.5,13.75,14,14.25,14.5,14.75], "labels": false, "tickSize": -6, "grid": false, "title": null}},
            "y2": {"datum": 15}
          }
        }
      ]
    },
    {
      "width": 359, "height": 851,
      "resolve": {"axis": {"x": "independent", "y": "independent"}},
      "layer": [
        {
          "data": {"name": "fs"},
          "mark": {"type": "line", "strokeJoin": "round"},
          "encoding": {
            "x": {"field": "v", "type": "quantitative", "scale": {"domain": [0, 300], "range": [64, 359], "nice": false, "zero": false},
              "axis": {"orient": "top", "offset": -10, "values": [0, 50, 100, 150, 200, 250, 300], "labelExpr": "'' + datum.value", "labelPadding": 15, "tickSize": 6, "grid": true, "title": "Sleeve Friction, fs (kPa)", "titleFontSize": 20, "titleFontWeight": "bold", "titlePadding": 20}},
            "y": {"field": "d", "type": "quantitative", "scale": {"domain": [0, 15], "range": [10, 849.6], "nice": false, "zero": false},
              "axis": {"orient": "left", "values": [1,2,3,4,5,6,7,8,9,10,11,12,13,14], "labels": false, "ticks": false, "grid": true, "title": null}},
            "order": {"field": "d", "type": "quantitative"},
            "color": {"field": "s", "type": "nominal", "scale": {"domain": ["CPT-03-N", "CPT-98-W", "CPT-96-W"], "range": ["#00ee00", "black", "black"]}, "legend": null},
            "strokeDash": {"field": "s", "type": "nominal", "scale": {"domain": ["CPT-03-N", "CPT-98-W", "CPT-96-W"], "range": [[1, 0], [4, 3], [1, 0]]}, "legend": null},
            "strokeWidth": {"condition": {"test": "datum.s === 'CPT-03-N'", "value": 3.5}, "value": 1.2}
          }
        },
        {
          "data": {"values": [{}]},
          "mark": {"type": "rect", "fill": "transparent", "stroke": "black", "strokeWidth": 2},
          "encoding": {
            "x": {"datum": 0, "type": "quantitative", "scale": {"domain": [0, 300], "range": [64, 359], "nice": false, "zero": false},
              "axis": {"orient": "top", "offset": -10, "values": [10,20,30,40,60,70,80,90,110,120,130,140,160,170,180,190,210,220,230,240,260,270,280,290], "labels": false, "tickSize": -6, "grid": false, "title": null}},
            "x2": {"datum": 300},
            "y": {"datum": 0, "type": "quantitative", "scale": {"domain": [0, 15], "range": [10, 849.6], "nice": false, "zero": false}, "axis": null},
            "y2": {"datum": 15}
          }
        }
      ]
    },
    {
      "width": 351.3, "height": 851,
      "resolve": {"axis": {"x": "independent", "y": "independent"}},
      "layer": [
        {
          "data": {"name": "rf"},
          "mark": {"type": "line", "strokeJoin": "round"},
          "encoding": {
            "x": {"field": "v", "type": "quantitative", "scale": {"domain": [0, 10], "range": [47, 351.3], "nice": false, "zero": false},
              "axis": {"orient": "top", "offset": -4.3, "values": [0, 2, 4, 6, 8, 10], "labelExpr": "'' + datum.value", "labelPadding": 15, "tickSize": 6, "grid": true, "title": "Friction Ratio, Rf (%)", "titleFontSize": 20, "titleFontWeight": "bold", "titlePadding": 20}},
            "y": {"field": "d", "type": "quantitative", "scale": {"domain": [0, 15], "range": [4.3, 849], "nice": false, "zero": false},
              "axis": {"orient": "left", "values": [1,2,3,4,5,6,7,8,9,10,11,12,13,14], "labels": false, "ticks": false, "grid": true, "title": null}},
            "order": {"field": "d", "type": "quantitative"},
            "color": {"field": "s", "type": "nominal", "scale": {"domain": ["CPT-03-N", "CPT-98-W", "CPT-96-W"], "range": ["#00ee00", "black", "black"]}, "legend": null},
            "strokeDash": {"field": "s", "type": "nominal", "scale": {"domain": ["CPT-03-N", "CPT-98-W", "CPT-96-W"], "range": [[1, 0], [4, 3], [1, 0]]}, "legend": null},
            "strokeWidth": {"condition": {"test": "datum.s === 'CPT-03-N'", "value": 3.5}, "value": 1.2}
          }
        },
        {
          "data": {"values": [{}]},
          "mark": {"type": "rect", "fill": "transparent", "stroke": "black", "strokeWidth": 2},
          "encoding": {
            "x": {"datum": 0, "type": "quantitative", "scale": {"domain": [0, 10], "range": [47, 351.3], "nice": false, "zero": false},
              "axis": {"orient": "top", "offset": -4.3, "values": [0.5,1,1.5,2.5,3,3.5,4.5,5,5.5,6.5,7,7.5,8.5,9,9.5], "labels": false, "tickSize": -6, "grid": false, "title": null}},
            "x2": {"datum": 10},
            "y": {"datum": 0, "type": "quantitative", "scale": {"domain": [0, 15], "range": [4.3, 849], "nice": false, "zero": false}, "axis": null},
            "y2": {"datum": 15}
          }
        }
      ]
    },
    {
      "width": 339.4, "height": 851,
      "resolve": {"axis": {"x": "independent", "y": "independent"}},
      "layer": [
        {
          "data": {"name": "u"},
          "mark": {"type": "line", "strokeJoin": "round"},
          "encoding": {
            "x": {"field": "v", "type": "quantitative", "scale": {"domain": [-200, 800], "range": [50.7, 339.4], "nice": false, "zero": false},
              "axis": {"orient": "top", "offset": -0.6, "values": [-200, 0, 200, 400, 600, 800], "labelExpr": "'' + datum.value", "labelPadding": 15, "tickSize": 6, "grid": true, "title": "Pore Water Pressure, u (kPa)", "titleFontSize": 20, "titleFontWeight": "bold", "titlePadding": 20}},
            "y": {"field": "d", "type": "quantitative", "scale": {"domain": [0, 15], "range": [0.6, 850.6], "nice": false, "zero": false},
              "axis": {"orient": "left", "values": [1,2,3,4,5,6,7,8,9,10,11,12,13,14], "labels": false, "ticks": false, "grid": true, "title": null}},
            "order": {"field": "d", "type": "quantitative"},
            "color": {"field": "s", "type": "nominal", "scale": {"domain": ["CPT-03-N", "CPT-98-W", "CPT-96-W"], "range": ["#00ee00", "black", "black"]}, "legend": null},
            "strokeDash": {"field": "s", "type": "nominal", "scale": {"domain": ["CPT-03-N", "CPT-98-W", "CPT-96-W"], "range": [[1, 0], [4, 3], [1, 0]]}, "legend": null},
            "strokeWidth": {"condition": {"test": "datum.s === 'CPT-03-N'", "value": 3.5}, "value": 1.2}
          }
        },
        {
          "data": {"values": [{}]},
          "mark": {"type": "rect", "fill": "transparent", "stroke": "black", "strokeWidth": 2},
          "encoding": {
            "x": {"datum": -200, "type": "quantitative", "scale": {"domain": [-200, 800], "range": [50.7, 339.4], "nice": false, "zero": false},
              "axis": {"orient": "top", "offset": -0.6, "values": [-150,-100,-50,50,100,150,250,300,350,450,500,550,650,700,750], "labels": false, "tickSize": -6, "grid": false, "title": null}},
            "x2": {"datum": 800},
            "y": {"datum": 0, "type": "quantitative", "scale": {"domain": [0, 15], "range": [0.6, 850.6], "nice": false, "zero": false}, "axis": null},
            "y2": {"datum": 15}
          }
        }
      ]
    }
  ]
}
